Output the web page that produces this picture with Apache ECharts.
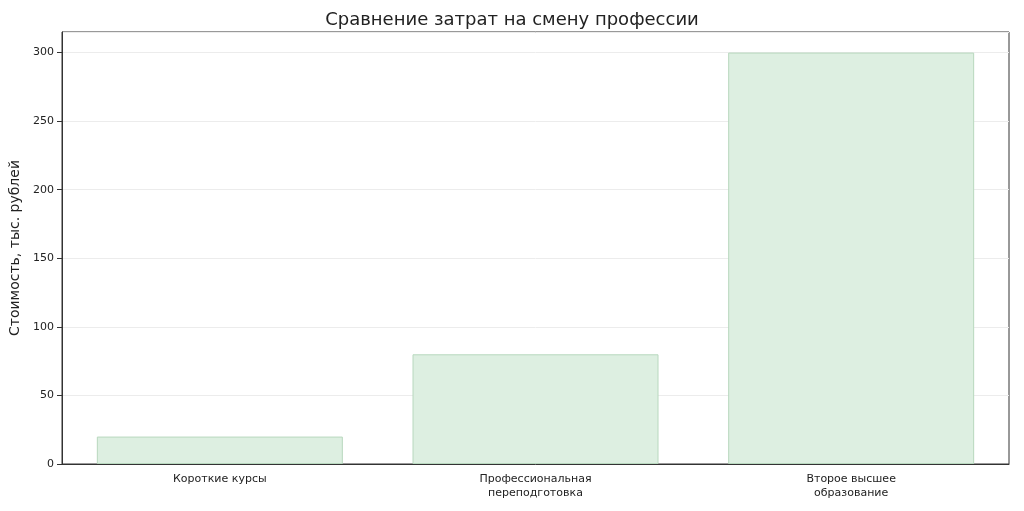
<!DOCTYPE html>
<html><head><meta charset="utf-8">
<script src="https://cdn.jsdelivr.net/npm/echarts@6/dist/echarts.min.js"></script>
<style>html,body{margin:0;padding:0;background:#fff}#c{width:1024px;height:511px}</style>
</head><body><div id="c"></div>
<script>
var categories = ['Короткие курсы', 'Профессиональная\nпереподготовка', 'Второе высшее\nобразование'];
var costs = [20, 80, 300];

var chart = echarts.init(document.getElementById('c'));
chart.setOption({
    animation: false,
    textStyle: {fontFamily: 'DejaVu Sans'},
    title: {
        text: 'Сравнение затрат на смену профессии',
        left: 'center', top: 6,
        textStyle: {fontSize: 18, fontWeight: 'normal', color: '#222'}
    },
    grid: {left: 62, right: 15, top: 32, bottom: 47, show: true, borderColor: '#333', borderWidth: 1},
    xAxis: {
        type: 'category', data: categories,
        axisLine: {lineStyle: {color: '#333'}},
        axisTick: {alignWithLabel: true, lineStyle: {color: '#333'}},
        axisLabel: {color: '#222', fontSize: 11, lineHeight: 14}
    },
    yAxis: {
        type: 'value', min: 0, max: 315, interval: 50,
        name: 'Стоимость, тыс. рублей', nameLocation: 'middle', nameGap: 40,
        nameTextStyle: {fontSize: 14, color: '#222'},
        axisLine: {show: true, lineStyle: {color: '#333'}},
        axisTick: {show: true, lineStyle: {color: '#333'}},
        axisLabel: {color: '#222', fontSize: 11, showMaxLabel: false},
        splitLine: {lineStyle: {color: '#ececec'}}
    },
    series: [{
        type: 'bar', data: costs, barWidth: 246,
        itemStyle: {color: '#ddefe1', borderColor: '#b8d8be', borderWidth: 1}
    }]
});
</script></body></html>
